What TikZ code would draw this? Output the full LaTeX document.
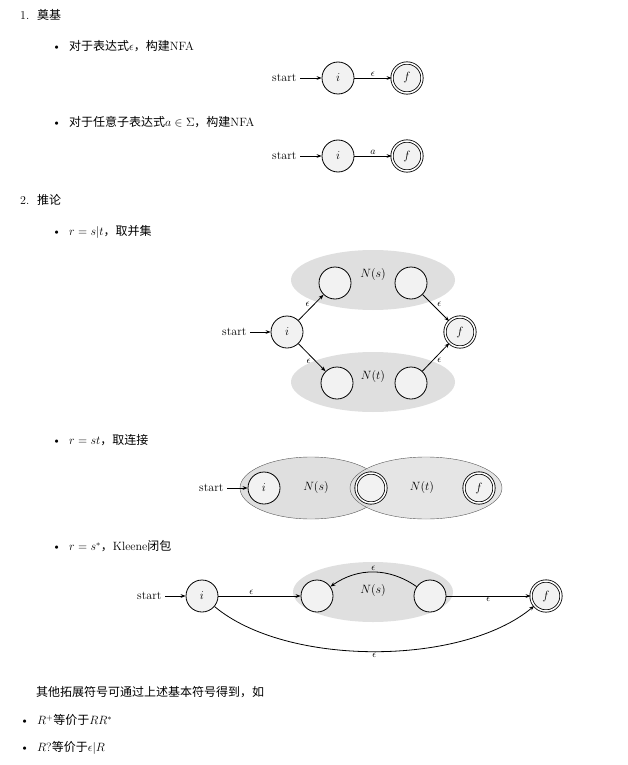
\documentclass[tikz,border=0pt]{standalone}
\usepackage{fontspec}
\usepackage{amssymb}
\newfontfamily\cjk{Noto Sans CJK SC}
\usetikzlibrary{arrows.meta,shapes.geometric}
\begin{document}
\begin{tikzpicture}[x=1pt,y=-1pt,font=\fontsize{12}{14}\selectfont,
  st/.style={circle,draw,thick,fill=gray!10,minimum size=32pt,inner sep=0pt},
  acc/.style={st,double,double distance=1.5pt,minimum size=30pt},
  blob/.style={ellipse,fill=gray!25,draw=none},
  blobd/.style={ellipse,fill=gray!25,draw=gray!70!black},
  ar/.style={-{Stealth[length=5pt]},thick},
  txt/.style={anchor=west,inner sep=0pt},
  lab/.style={font=\fontsize{10}{12}\selectfont,inner sep=1pt}]
\useasboundingbox (0,0) rectangle (627,765);
% headings
\node[txt] (h1) at (20,15) {1.\ \ {\cjk 奠基}};
\node[txt] (b1) at (52,46) {\textbullet\ \ {\cjk 对于表达式}$\epsilon${\cjk ，构建}NFA};
\node[txt] (b2) at (52,122) {\textbullet\ \ {\cjk 对于任意子表达式}$a\in\Sigma${\cjk ，构建}NFA};
\node[txt] (h2) at (20,200) {2.\ \ {\cjk 推论}};
\node[txt] (b3) at (52,232) {\textbullet\ \ $r=s|t${\cjk ，取并集}};
\node[txt] (b4) at (52,440) {\textbullet\ \ $r=st${\cjk ，取连接}};
\node[txt] (b5) at (52,546) {\textbullet\ \ $r=s^*${\cjk ，}Kleene{\cjk 闭包}};
\node[txt] (t1) at (36,692) {{\cjk 其他拓展符号可通过上述基本符号得到，如}};
\node[txt] (t2) at (20,720) {\textbullet\ \ $R^+${\cjk 等价于}$RR^*$};
\node[txt] (t3) at (20,748) {\textbullet\ \ $R?${\cjk 等价于}$\epsilon|R$};
% basis 1
\node[st] (i1) at (338,78) {$i$};
\node[acc] (f1) at (407,78) {$f$};
\node[anchor=east] (s1) at (300,78) {start};
\draw[ar] (s1) -- (i1);
\draw[ar] (i1) -- node[above,lab] {$\epsilon$} (f1);
% basis 2
\node[st] (i2) at (338,156) {$i$};
\node[acc] (f2) at (407,156) {$f$};
\node[anchor=east] (s2) at (300,156) {start};
\draw[ar] (s2) -- (i2);
\draw[ar] (i2) -- node[above,lab] {$a$} (f2);
% union
\node[blob,minimum width=164pt,minimum height=60pt] (es) at (373,280) {};
\node[blob,minimum width=164pt,minimum height=60pt] (et) at (373,382) {};
\node (ns) at (373,274) {$N(s)$};
\node (nt) at (373,376) {$N(t)$};
\node[st] (sa) at (335,283) {};
\node[st] (sb) at (411,283) {};
\node[st] (ta) at (337,383) {};
\node[st] (tb) at (411,383) {};
\node[st] (iu) at (287,332) {$i$};
\node[acc] (fu) at (460,332) {$f$};
\node[anchor=east] (su) at (250,332) {start};
\draw[ar] (su) -- (iu);
\draw[ar] (iu) -- node[above left,lab] {$\epsilon$} (sa);
\draw[ar] (iu) -- node[below left,lab] {$\epsilon$} (ta);
\draw[ar] (sb) -- node[above right,lab] {$\epsilon$} (fu);
\draw[ar] (tb) -- node[below right,lab] {$\epsilon$} (fu);
% concat
\node[blobd,minimum width=142pt,minimum height=62pt] (cs) at (311,488) {};
\node[blobd,minimum width=152pt,minimum height=62pt,fill opacity=0.8] (ct) at (426,488) {};
\node[st] (ic) at (264,488) {$i$};
\node[st,double,double distance=1.5pt,minimum size=30pt] (mc) at (371,488) {};
\node[acc] (fc) at (479,488) {$f$};
\node (cns) at (316,487) {$N(s)$};
\node (cnt) at (422,487) {$N(t)$};
\node[anchor=east] (sc) at (227,488) {start};
\draw[ar] (sc) -- (ic);
% kleene
\node[blob,minimum width=160pt,minimum height=60pt] (ek) at (373,592) {};
\node (nk) at (373,590) {$N(s)$};
\node[st] (ka) at (317,596) {};
\node[st] (kb) at (430,596) {};
\node[st] (ik) at (202,596) {$i$};
\node[acc] (fk) at (546,596) {$f$};
\node[anchor=east] (sk) at (165,596) {start};
\draw[ar] (sk) -- (ik);
\draw[ar] (ik) -- node[above,lab,pos=0.4] {$\epsilon$} (ka);
\draw[ar] (kb) -- node[below,lab] {$\epsilon$} (fk);
\draw[ar] (kb) to[out=145,in=35] node[above,lab] {$\epsilon$} (ka);
\draw[ar] (ik) to[out=-40,in=-140,looseness=0.75] node[below,lab] {$\epsilon$} (fk);
\end{tikzpicture}
\end{document}
